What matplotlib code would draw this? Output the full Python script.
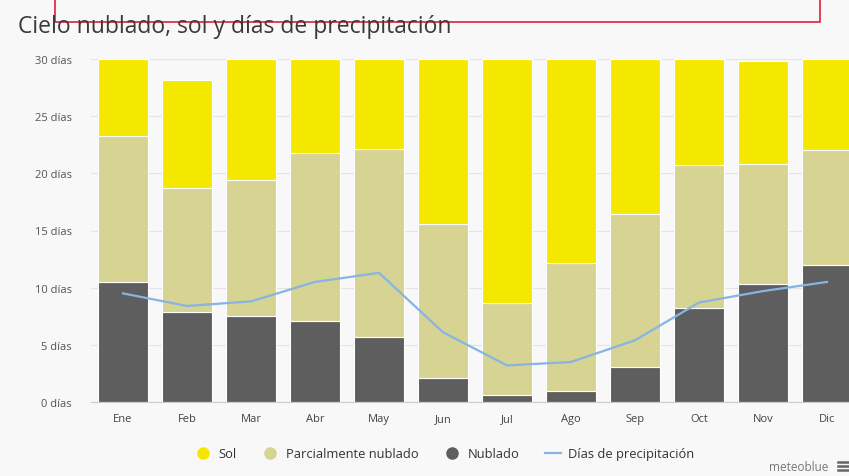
import matplotlib
matplotlib.use("Agg")
import matplotlib.pyplot as plt
from matplotlib.patches import Rectangle
from matplotlib.lines import Line2D
import numpy as np

plt.rcParams['font.family'] = ['Open Sans', 'DejaVu Sans']

months = ["Ene", "Feb", "Mar", "Abr", "May", "Jun", "Jul", "Ago", "Sep", "Oct", "Nov", "Dic"]
nublado = [10.5, 7.9, 7.5, 7.1, 5.7, 2.1, 0.6, 1.0, 3.1, 8.2, 10.3, 12.0]
parcial = [12.8, 10.8, 11.9, 14.7, 16.4, 13.5, 8.1, 11.2, 13.3, 12.5, 10.5, 10.0]
sol = [6.7, 9.5, 10.6, 8.2, 7.9, 14.4, 21.3, 17.8, 13.6, 9.3, 9.0, 8.0]
precip = [9.5, 8.4, 8.8, 10.5, 11.3, 6.1, 3.2, 3.5, 5.4, 8.7, 9.7, 10.5]
yticks = [0, 5, 10, 15, 20, 25, 30]
ytick_labels = [f"{v} días" for v in yticks]

c_sol = "#f5e800"
c_parcial = "#d7d393"
c_nublado = "#5e5e5e"
c_line = "#86b4e3"
bg = "#f8f8f8"

fig = plt.figure(figsize=(8.49, 4.77), dpi=100, facecolor=bg)
ax = fig.add_axes([91/849, (477-403)/477, 768/849, 343/477])
ax.set_facecolor(bg)

x = np.arange(len(months))
w = 0.78
ax.bar(x, nublado, width=w, color=c_nublado, edgecolor="white", linewidth=0.8, zorder=2)
b2 = np.array(nublado)
ax.bar(x, parcial, width=w, bottom=b2, color=c_parcial, edgecolor="white", linewidth=0.8, zorder=2)
b3 = b2 + np.array(parcial)
ax.bar(x, sol, width=w, bottom=b3, color=c_sol, edgecolor="white", linewidth=0.8, zorder=2)
ax.plot(x, precip, color=c_line, linewidth=1.6, zorder=3)

ax.set_xlim(-0.5, len(months) - 0.5)
ax.set_ylim(0, 30)
ax.set_yticks(yticks)
ax.set_yticklabels(ytick_labels, fontsize=8, color="#555555")
ax.set_xticks(x)
ax.set_xticklabels(months, fontsize=8, color="#444444")
ax.tick_params(axis="both", length=0, pad=8)
ax.tick_params(axis="y", pad=14)
ax.grid(axis="y", color="#e4e4e4", linewidth=0.8, zorder=0)
for s in ["top", "right", "left"]:
    ax.spines[s].set_visible(False)
ax.spines["bottom"].set_color("#cccccc")

fig.text(18/849, 1 - 27/477, "Cielo nublado, sol y días de precipitación", fontsize=16.5,
         color="#3a3a3a", va="center", ha="left")

# legend
handles = [
    Line2D([], [], marker="o", linestyle="none", markersize=8, markerfacecolor=c_sol, markeredgecolor=c_sol),
    Line2D([], [], marker="o", linestyle="none", markersize=8, markerfacecolor=c_parcial, markeredgecolor=c_parcial),
    Line2D([], [], marker="o", linestyle="none", markersize=8, markerfacecolor=c_nublado, markeredgecolor=c_nublado),
    Line2D([], [], color=c_line, linewidth=1.6),
]
labels = ["Sol", "Parcialmente nublado", "Nublado", "Días de precipitación"]
fig.legend(handles, labels, loc="center", bbox_to_anchor=(445/849, 1 - 455/477), ncol=4,
           frameon=False, fontsize=9.3, handlelength=1.2, handletextpad=0.6, columnspacing=2.0,
           labelcolor="#333333")

fig.text(828/849, 1 - 468/477, "meteoblue", fontsize=8.5, color="#777777", ha="right", va="center")
for dy in (-4, 0, 4):
    fig.add_artist(Line2D([838/849, 848/849], [(477 - 467 - dy)/477] * 2, color="#666666", linewidth=1.8))

# red annotation box at top
fig.add_artist(Rectangle((55/849, 1 - 23/477), (820-55)/849, 30/477, fill=False,
                         edgecolor="#e0203c", linewidth=1.2, transform=fig.transFigure))

fig.savefig("out.png", dpi=100, facecolor=bg)
